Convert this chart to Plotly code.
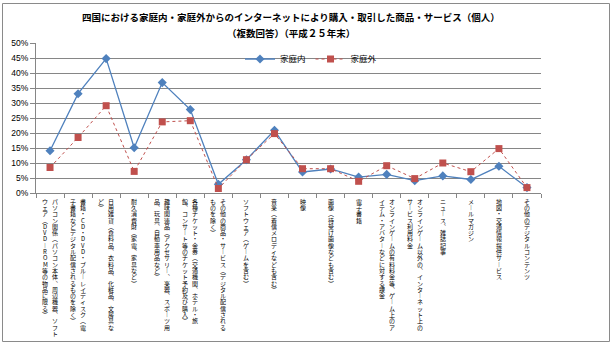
import plotly.graph_objects as go

categories = [
    "パソコン関係（パソコン本体、周辺機器、ソフトウェア（DVD-ROM等の物品に限る）",
    "書籍・CD・DVD・ブルーレイディスク（電子書籍などデジタル配信されるものを除く）",
    "日用雑貨（食料品、衣料品、化粧品、文房具など）",
    "耐久消費財（家電、家具など）",
    "趣味関連品（アクセサリー、楽器、スポーツ用品、玩具、自動車用品など）",
    "各種チケット・金券（交通機関、ホテル・旅館、コンサート等のチケット予約及び購入）",
    "その他の商品・サービス（デジタル配信されるものを除く）",
    "ソフトウェア（ゲームを含む）",
    "音楽（着信メロディなども含む）",
    "映像",
    "画像（待受け画像なども含む）",
    "電子書籍",
    "オンラインゲームの有料料金等、ゲーム上のアイテム・アバターなどに対する課金",
    "オンラインゲーム以外の、インターネット上のサービス利用料金",
    "ニュース、雑誌記事",
    "メールマガジン",
    "地図・交通情報提供サービス",
    "その他のデジタルコンテンツ",
]
# wrapped label columns (first column drawn on the right, as in vertical writing)
label_columns = [
    ["パソコン関係（パソコン本体、周辺機器、ソフト", "ウェア（DVD-ROM等の物品に限る）"],
    ["書籍・CD・DVD・ブルーレイディスク（電", "子書籍などデジタル配信されるものを除く）"],
    ["日用雑貨（食料品、衣料品、化粧品、文房具な", "ど）"],
    ["耐久消費財（家電、家具など）"],
    ["趣味関連品（アクセサリー、楽器、スポーツ用", "品、玩具、自動車用品など）"],
    ["各種チケット・金券（交通機関、ホテル・旅", "館、コンサート等のチケット予約及び購入）"],
    ["その他の商品・サービス（デジタル配信される", "ものを除く）"],
    ["ソフトウェア（ゲームを含む）"],
    ["音楽（着信メロディなども含む）"],
    ["映像"],
    ["画像（待受け画像なども含む）"],
    ["電子書籍"],
    ["オンラインゲームの有料料金等、ゲーム上のア", "イテム・アバターなどに対する課金"],
    ["オンラインゲーム以外の、インターネット上の", "サービス利用料金"],
    ["ニュース、雑誌記事"],
    ["メールマガジン"],
    ["地図・交通情報提供サービス"],
    ["その他のデジタルコンテンツ"],
]
inside_home = [0.141, 0.331, 0.448, 0.151, 0.368, 0.278, 0.029, 0.111, 0.209, 0.070,
               0.080, 0.053, 0.062, 0.041, 0.057, 0.045, 0.089, 0.018]
outside_home = [0.085, 0.185, 0.291, 0.072, 0.237, 0.241, 0.015, 0.111, 0.198, 0.081,
                0.081, 0.039, 0.091, 0.048, 0.100, 0.071, 0.148, 0.018]
series_names = ["家庭内", "家庭外"]
title_lines = ["四国における家庭内・家庭外からのインターネットにより購入・取引した商品・サービス（個人）",
               "（複数回答）（平成２５年末）"]

W, H = 613, 344
L, R, T, B = 36, 72, 43, 151
plot_h = H - T - B
plot_w = W - L - R

def py_to_paper(py):
    return (H - B - py) / plot_h

def px_to_paper(px):
    return (px - L) / plot_w

vert_map = {"（": "︵", "）": "︶", "、": "︑", "ー": "︱", "-": "︱", "(": "︵", ")": "︶"}

fig = go.Figure()
fig.add_trace(go.Scatter(
    x=list(range(len(categories))), y=inside_home, name=series_names[0], mode="lines+markers",
    line=dict(color="#4F81BD", width=1.3),
    marker=dict(symbol="diamond", size=7, color="#4F81BD"),
))
fig.add_trace(go.Scatter(
    x=list(range(len(categories))), y=outside_home, name=series_names[1], mode="lines+markers",
    line=dict(color="#C0504D", width=1, dash="dot"),
    marker=dict(symbol="square", size=7, color="#C0504D"),
))

annotations = []
jp = "Noto Sans CJK JP"
# title
for i, t in enumerate(title_lines):
    annotations.append(dict(text="<b>" + t + "</b>", x=px_to_paper(291), y=py_to_paper(17 + 16 * i),
                            xref="paper", yref="paper", showarrow=False, xanchor="center", yanchor="middle",
                            font=dict(family=jp, size=9.5, color="#000")))
# vertical category labels (upright characters, stacked top to bottom)
pitch = 6.3
top = 198
for ci, cols in enumerate(label_columns):
    n = len(cols)
    for k, col in enumerate(cols):
        shift = 0 if n == 1 else (5 if k == 0 else -5)
        for j, ch in enumerate(col):
            annotations.append(dict(
                text=vert_map.get(ch, ch), x=ci, xref="x", xshift=shift,
                y=py_to_paper(top + j * pitch + pitch / 2), yref="paper",
                showarrow=False, xanchor="center", yanchor="middle", borderpad=0,
                font=dict(family=jp, size=6, color="#000"),
            ))

shapes = [dict(type="rect", xref="paper", yref="paper",
               x0=px_to_paper(2.5), x1=px_to_paper(609.5), y0=py_to_paper(341.5), y1=py_to_paper(3.5),
               line=dict(color="#8a8a8a", width=1), fillcolor="rgba(0,0,0,0)", layer="below")]

fig.update_layout(
    width=W, height=H,
    margin=dict(l=L, r=R, t=T, b=B, pad=0),
    paper_bgcolor="white", plot_bgcolor="white",
    showlegend=True,
    legend=dict(orientation="h", x=px_to_paper(240), y=py_to_paper(59), xanchor="left", yanchor="middle",
                font=dict(family=jp, size=8.5, color="#000"), bgcolor="rgba(0,0,0,0)",
                itemwidth=30, tracegroupgap=0),
    xaxis=dict(range=[-0.5, len(categories) - 0.5], showticklabels=False,
               tickmode="array", tickvals=[i - 0.5 for i in range(len(categories) + 1)],
               ticks="outside", ticklen=4, tickcolor="#868686",
               showline=True, linecolor="#868686", linewidth=1, showgrid=False, zeroline=False),
    yaxis=dict(range=[0, 0.5], dtick=0.05, tickformat=".0%", ticks="outside", ticklen=5,
               tickcolor="#868686", showline=True, linecolor="#868686", linewidth=1,
               showgrid=True, gridcolor="#868686", gridwidth=1, zeroline=False,
               tickfont=dict(family="Liberation Sans", size=8.5, color="#000")),
    annotations=annotations,
    shapes=shapes,
)
fig.write_html("out.html")
